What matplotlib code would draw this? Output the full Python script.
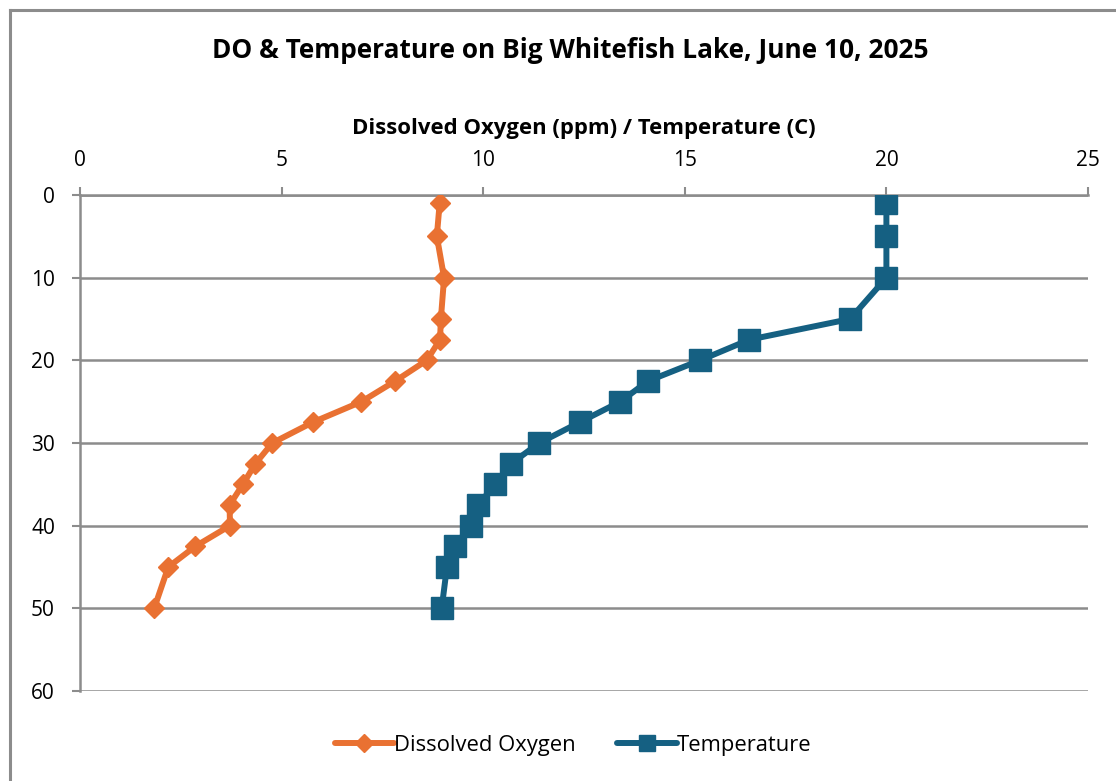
import matplotlib
matplotlib.use("Agg")
import matplotlib.pyplot as plt
from matplotlib.lines import Line2D

depth = [1, 5, 10, 15, 17.5, 20, 22.5, 25, 27.5, 30, 32.5, 35, 37.5, 40, 42.5, 45, 50]
dissolved_oxygen = [8.92, 8.85, 9.03, 8.95, 8.93, 8.6, 7.82, 6.98, 5.77, 4.77, 4.35, 4.04, 3.71, 3.72, 2.86, 2.19, 1.84]
temperature = [20.0, 20.0, 20.0, 19.1, 16.6, 15.38, 14.09, 13.4, 12.39, 11.39, 10.69, 10.29, 9.88, 9.69, 9.29, 9.1, 8.97]
x_ticks = [0, 5, 10, 15, 20, 25]
y_ticks = [0, 10, 20, 30, 40, 50, 60]

title = "DO & Temperature on Big Whitefish Lake, June 10, 2025"
x_label = "Dissolved Oxygen (ppm) / Temperature (C)"

ORANGE = "#E97132"
BLUE = "#156082"
GRID = "#8C8C8C"

plt.rcParams['font.family'] = ['Open Sans', 'DejaVu Sans']

W, H = 1116, 781
fig = plt.figure(figsize=(W / 100, H / 100), dpi=100)
ax = fig.add_axes([80 / W, 1 - 691 / H, (1088 - 80) / W, (691 - 195) / H])

ax.plot(dissolved_oxygen, depth, color=ORANGE, lw=4.3, marker='D', ms=10,
        solid_joinstyle='round', solid_capstyle='round', label="Dissolved Oxygen", zorder=3)
ax.plot(temperature, depth, color=BLUE, lw=4.3, marker='s', ms=15.5,
        solid_joinstyle='round', solid_capstyle='round', label="Temperature", zorder=3)

ax.set_xlim(0, 25)
ax.set_ylim(60, 0)
ax.set_xticks(x_ticks)
ax.set_yticks(y_ticks)
ax.xaxis.tick_top()
ax.xaxis.set_label_position('top')
ax.set_xlabel(x_label, fontsize=15.9, fontweight='bold', labelpad=12)

ax.tick_params(axis='both', colors=GRID, labelcolor='black', labelsize=15,
               length=6, width=1.5, direction='out')
ax.tick_params(axis='x', pad=11)
ax.tick_params(axis='y', pad=12)

ax.yaxis.grid(True, color=GRID, lw=1.8)
ax.xaxis.grid(False)
ax.set_axisbelow(True)
for s in ['right', 'bottom']:
    ax.spines[s].set_visible(False)
ax.spines['top'].set_color(GRID)
ax.spines['top'].set_linewidth(1.8)
ax.spines['left'].set_color(GRID)
ax.spines['left'].set_linewidth(1.8)

fig.text(570 / W, 1 - 50 / H, title, ha='center', va='center',
         fontsize=18.9, fontweight='bold')

handles = [
    Line2D([], [], color=ORANGE, lw=4.3, marker='D', ms=9, solid_capstyle='round'),
    Line2D([], [], color=BLUE, lw=4.3, marker='s', ms=12, solid_capstyle='round'),
]
fig.legend(handles, ["Dissolved Oxygen", "Temperature"], loc='center',
           bbox_to_anchor=(573 / W, 1 - 745 / H), ncol=2, frameon=False,
           fontsize=15.8, handlelength=2.7, handletextpad=0.0, columnspacing=1.9)

# outer chart border
fig.add_artist(Line2D([10 / W, 10 / W], [0, 1 - 10 / H], color=GRID, lw=2.2,
                      transform=fig.transFigure))
fig.add_artist(Line2D([10 / W, 1], [1 - 10 / H, 1 - 10 / H], color=GRID, lw=2.2,
                      transform=fig.transFigure))

fig.savefig("out.png", dpi=100)
